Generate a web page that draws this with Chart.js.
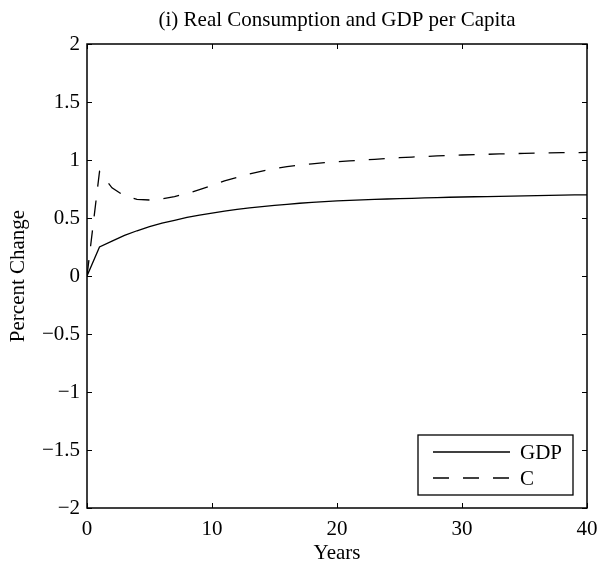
<!DOCTYPE html>
<html>
<head>
<meta charset="utf-8">
<script src="https://cdn.jsdelivr.net/npm/chart.js@4"></script>
<style>
  html, body { margin: 0; padding: 0; background: #fff; }
  canvas { display: block; }
</style>
</head>
<body>
<canvas id="irfChart" width="600" height="562"></canvas>
<script>
// years 0..40
const years = [];
for (let t = 0; t <= 40; t++) years.push(t);

const gdpValues = [0, 0.25, 0.30, 0.35, 0.39, 0.425, 0.455, 0.48, 0.505, 0.525, 0.542,
  0.56, 0.575, 0.587, 0.598, 0.608, 0.618, 0.627, 0.634, 0.641, 0.647,
  0.652, 0.656, 0.66, 0.664, 0.667, 0.67, 0.673, 0.676, 0.679, 0.681,
  0.683, 0.685, 0.687, 0.689, 0.691, 0.693, 0.695, 0.697, 0.699, 0.70];

const consValues = [0, 0.9, 0.76, 0.69, 0.66, 0.655, 0.665, 0.685, 0.71, 0.745, 0.78,
  0.82, 0.85, 0.88, 0.905, 0.925, 0.942, 0.957, 0.967, 0.977, 0.985,
  0.992, 0.999, 1.006, 1.013, 1.02, 1.025, 1.03, 1.035, 1.04, 1.043,
  1.046, 1.049, 1.052, 1.055, 1.057, 1.059, 1.061, 1.063, 1.064, 1.065];

const xTicks = [0, 10, 20, 30, 40];
const yTicks = [-2, -1.5, -1, -0.5, 0, 0.5, 1, 1.5, 2];
const seriesNames = ["GDP", "C"];
const chartTitle = "(i) Real Consumption and GDP per Capita";

const FONT = "'Liberation Serif', 'Times New Roman', serif";

function fmt(v) {
  // MATLAB-style minus sign
  return v < 0 ? "\u2212" + String(Math.abs(v)) : String(v);
}

// box + inward ticks on every side, title over the axes, and the legend, like matlab
const matlabAxes = {
  id: "matlabAxes",
  afterDatasetsDraw(chart) {
    const ctx = chart.ctx;
    const a = chart.chartArea;
    const xs = chart.scales.x, ys = chart.scales.y;
    ctx.save();
    ctx.strokeStyle = "#000";
    ctx.lineWidth = 1.5;
    ctx.strokeRect(a.left, a.top, a.right - a.left, a.bottom - a.top);
    ctx.lineWidth = 1;
    ctx.beginPath();
    xTicks.forEach(function(v) {
      const px = Math.round(xs.getPixelForValue(v)) + 0.5;
      ctx.moveTo(px, a.bottom); ctx.lineTo(px, a.bottom - 5);
      ctx.moveTo(px, a.top); ctx.lineTo(px, a.top + 5);
    });
    yTicks.forEach(function(v) {
      const py = Math.round(ys.getPixelForValue(v)) + 0.5;
      ctx.moveTo(a.left, py); ctx.lineTo(a.left + 5, py);
      ctx.moveTo(a.right, py); ctx.lineTo(a.right - 5, py);
    });
    ctx.stroke();

    // title centred on the axes
    ctx.fillStyle = "#000";
    ctx.font = "21px " + FONT;
    ctx.textAlign = "center";
    ctx.textBaseline = "middle";
    ctx.fillText(chartTitle, (a.left + a.right) / 2, 20);

    // legend box
    const lx = 418, ly = 435, lw = 155, lh = 60;
    ctx.fillStyle = "#fff";
    ctx.fillRect(lx, ly, lw, lh);
    ctx.lineWidth = 1.3;
    ctx.strokeRect(lx, ly, lw, lh);
    ctx.font = "21px " + FONT;
    ctx.fillStyle = "#000";
    ctx.textAlign = "left";
    ctx.textBaseline = "middle";
    chart.data.datasets.forEach(function(ds, i) {
      const yy = ly + 17 + i * 26;
      ctx.beginPath();
      ctx.setLineDash(ds.borderDash || []);
      ctx.lineWidth = 1.3;
      ctx.moveTo(433, yy); ctx.lineTo(510, yy);
      ctx.stroke();
      ctx.setLineDash([]);
      ctx.fillText(ds.label, 520, yy + 1);
    });
    ctx.restore();
  }
};

const ctx = document.getElementById("irfChart").getContext("2d");

new Chart(ctx, {
  type: "line",
  data: {
    labels: years,
    datasets: [
      {
        label: seriesNames[0],
        data: years.map((t, i) => ({ x: t, y: gdpValues[i] })),
        borderColor: "#000",
        borderWidth: 1.3,
        pointRadius: 0,
        tension: 0,
        fill: false
      },
      {
        label: seriesNames[1],
        data: years.map((t, i) => ({ x: t, y: consValues[i] })),
        borderColor: "#000",
        borderWidth: 1.3,
        borderDash: [16, 14],
        pointRadius: 0,
        tension: 0,
        fill: false
      }
    ]
  },
  options: {
    responsive: false,
    animation: false,
    devicePixelRatio: 1,
    layout: { padding: { left: 0, right: 13, top: 44, bottom: 0 } },
    plugins: {
      legend: { display: false },
      tooltip: { enabled: false },
      title: { display: false }
    },
    scales: {
      x: {
        type: "linear",
        min: 0,
        max: 40,
        afterBuildTicks: function(scale) { scale.ticks = xTicks.map(v => ({ value: v })); },
        afterFit: function(scale) {
          scale.height = 54;
          scale.paddingLeft = 0;
          scale.paddingRight = 0;
        },
        grid: { display: false, drawTicks: false },
        border: { display: false },
        ticks: {
          color: "#000",
          font: { family: FONT, size: 21 },
          padding: 9,
          maxRotation: 0,
          callback: v => fmt(v)
        },
        title: {
          display: true,
          text: "Years",
          color: "#000",
          font: { family: FONT, size: 21 },
          padding: { top: 0, bottom: -4 }
        }
      },
      y: {
        type: "linear",
        min: -2,
        max: 2,
        afterBuildTicks: function(scale) { scale.ticks = yTicks.map(v => ({ value: v })); },
        afterFit: function(scale) { scale.width = 87; },
        grid: { display: false, drawTicks: false },
        border: { display: false },
        ticks: {
          color: "#000",
          font: { family: FONT, size: 21 },
          padding: 7,
          callback: v => fmt(v)
        },
        title: {
          display: true,
          text: "Percent Change",
          color: "#000",
          font: { family: FONT, size: 21 },
          padding: { top: 6, bottom: 0 }
        }
      }
    }
  },
  plugins: [matlabAxes]
});
</script>
</body>
</html>
